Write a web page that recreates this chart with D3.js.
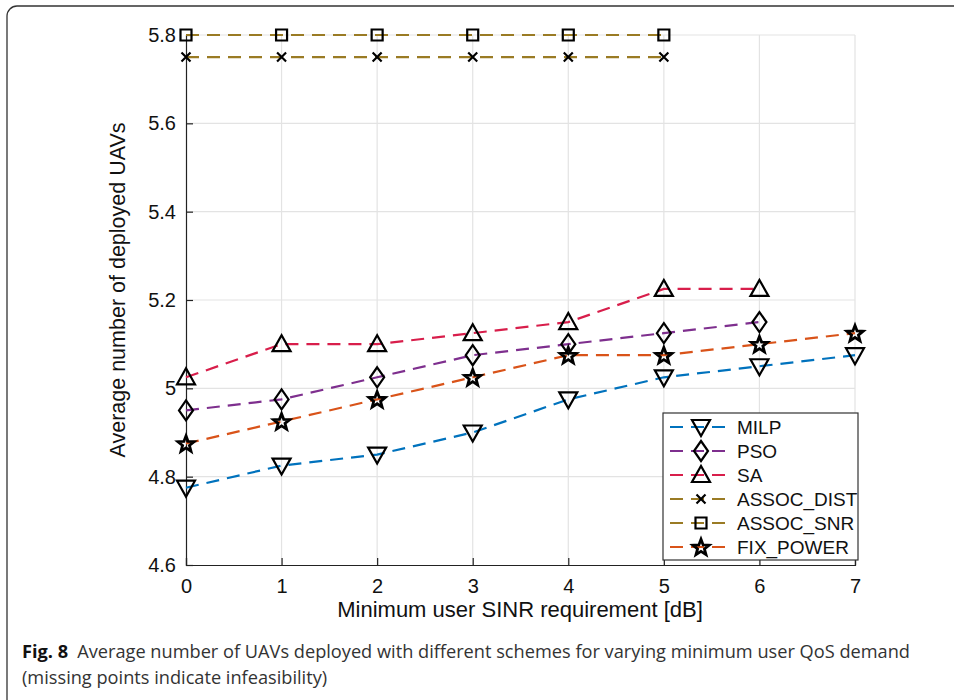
<!DOCTYPE html>
<html>
<head>
<meta charset="utf-8">
<script src="https://cdn.jsdelivr.net/npm/d3@7"></script>
<style>
  body { margin: 0; background: #fff; }
  svg { display: block; }
</style>
</head>
<body>
<div id="chart"></div>
<script>
// --- Data ---
const xTicks = [0, 1, 2, 3, 4, 5, 6, 7];
const yTicks = [4.6, 4.8, 5.0, 5.2, 5.4, 5.6, 5.8];

const milp = [4.775, 4.825, 4.85, 4.9, 4.975, 5.025, 5.05, 5.075];
const pso = [4.95, 4.975, 5.025, 5.075, 5.1, 5.125, 5.15];
const sa = [5.025, 5.1, 5.1, 5.125, 5.15, 5.225, 5.225];
const assocDist = [5.75, 5.75, 5.75, 5.75, 5.75, 5.75];
const assocSnr = [5.8, 5.8, 5.8, 5.8, 5.8, 5.8];
const fixPower = [4.875, 4.925, 4.975, 5.025, 5.075, 5.075, 5.1, 5.125];

const seriesNames = ['MILP', 'PSO', 'SA', 'ASSOC_DIST', 'ASSOC_SNR', 'FIX_POWER'];
const seriesValues = [milp, pso, sa, assocDist, assocSnr, fixPower];
const seriesColors = ['#0072BD', '#7E2F8E', '#D81E4B', '#9A7B24', '#9A7B24', '#D95319'];
const seriesMarkers = ['triDown', 'diamond', 'triUp', 'cross', 'square', 'star'];

const FONT = '"Liberation Sans", Arial, sans-serif';

// --- Setup ---
const W = 954, H = 700;
const svg = d3.select('#chart').append('svg').attr('width', W).attr('height', H);

// outer frame (rounded corner, right/bottom run off the page)
svg.append('rect')
    .attr('x', 7).attr('y', 6).attr('width', 980).attr('height', 740)
    .attr('rx', 10)
    .attr('fill', 'none').attr('stroke', '#333').attr('stroke-width', 1.3);

const x = d3.scaleLinear().domain([0, 7]).range([186, 855]);
const y = d3.scaleLinear().domain([4.6, 5.8]).range([565, 35]);

const g = svg.append('g');

// grid
g.append('g').selectAll('line').data(xTicks.slice(1)).join('line')
    .attr('x1', d => x(d)).attr('x2', d => x(d)).attr('y1', y(4.6)).attr('y2', y(5.8))
    .attr('stroke', '#e3e3e3').attr('stroke-width', 1.2);
g.append('g').selectAll('line').data(yTicks.slice(1)).join('line')
    .attr('x1', x(0)).attr('x2', x(7)).attr('y1', d => y(d)).attr('y2', d => y(d))
    .attr('stroke', '#e3e3e3').attr('stroke-width', 1.2);

// axes
const xAxis = d3.axisBottom(x).tickValues(xTicks).tickSize(-7).tickPadding(14).tickFormat(d3.format('d'));
const yAxis = d3.axisLeft(y).tickValues(yTicks).tickSize(-7).tickPadding(10).tickFormat(d => d === 5 ? '5' : d3.format('.1f')(d));

const gx = g.append('g').attr('transform', `translate(0,${y(4.6)})`).call(xAxis);
const gy = g.append('g').attr('transform', `translate(${x(0)},0)`).call(yAxis);
[gx, gy].forEach(a => {
    a.attr('font-family', FONT).attr('font-size', 20);
    a.select('.domain').attr('stroke', '#222').attr('stroke-width', 1.2);
    a.selectAll('.tick line').attr('stroke', '#222').attr('stroke-width', 1.2);
    a.selectAll('.tick text').attr('fill', '#111');
});

// axis labels
svg.append('text')
    .attr('x', 520).attr('y', 617)
    .attr('text-anchor', 'middle')
    .attr('font-family', FONT)
    .attr('font-size', 22).attr('fill', '#111')
    .text('Minimum user SINR requirement [dB]');
svg.append('text')
    .attr('transform', 'translate(125,290) rotate(-90)')
    .attr('text-anchor', 'middle')
    .attr('font-family', FONT)
    .attr('font-size', 21.5).attr('fill', '#111')
    .text('Average number of deployed UAVs');

// --- Marker shapes ---
function markerPath(type) {
    switch (type) {
        case 'triDown': return 'M-9,-7 L9,-7 L0,9 Z';
        case 'triUp': return 'M-9,7 L9,7 L0,-9 Z';
        case 'diamond': return 'M0,-10 L7,0 L0,10 L-7,0 Z';
        case 'square': return 'M-5.5,-5.5 L5.5,-5.5 L5.5,5.5 L-5.5,5.5 Z';
        case 'cross': return 'M-4.5,-4.5 L4.5,4.5 M-4.5,4.5 L4.5,-4.5';
        case 'star': {
            const pts = [];
            for (let i = 0; i < 10; i++) {
                const r = i % 2 === 0 ? 8.5 : 3.6;
                const a = -Math.PI / 2 + i * Math.PI / 5;
                pts.push([r * Math.cos(a), r * Math.sin(a) + 0.8]);
            }
            return 'M' + pts.map(p => p.join(',')).join('L') + 'Z';
        }
    }
}

const line = d3.line().x((d, i) => x(i)).y(d => y(d));

const plot = g.append('g');
seriesValues.forEach((vals, si) => {
    plot.append('path')
        .datum(vals)
        .attr('d', line)
        .attr('fill', 'none')
        .attr('stroke', seriesColors[si])
        .attr('stroke-width', 2.2)
        .attr('stroke-dasharray', '13,8');
});
seriesValues.forEach((vals, si) => {
    plot.append('g').selectAll('path').data(vals).join('path')
        .attr('transform', (d, i) => `translate(${x(i)},${y(d)})`)
        .attr('d', markerPath(seriesMarkers[si]))
        .attr('fill', 'none')
        .attr('stroke', '#000')
        .attr('stroke-width', seriesMarkers[si] === 'star' ? 2.8 : 2.2)
        .attr('stroke-linejoin', 'miter');
});

// --- Legend ---
const legend = svg.append('g');
legend.append('rect')
    .attr('x', 663).attr('y', 413).attr('width', 195).attr('height', 147)
    .attr('fill', '#fff').attr('stroke', '#333').attr('stroke-width', 1.2);
seriesNames.forEach((name, si) => {
    const ly = 427 + si * 24;
    const row = legend.append('g').attr('transform', `translate(0,${ly})`);
    row.append('line')
        .attr('x1', 670).attr('x2', 733).attr('y1', 0).attr('y2', 0)
        .attr('stroke', seriesColors[si]).attr('stroke-width', 2.2)
        .attr('stroke-dasharray', '13,8');
    row.append('path')
        .attr('transform', 'translate(701,0)')
        .attr('d', markerPath(seriesMarkers[si]))
        .attr('fill', 'none').attr('stroke', '#000')
        .attr('stroke-width', seriesMarkers[si] === 'star' ? 2.8 : 2.2);
    row.append('text')
        .attr('x', 737).attr('y', 7)
        .attr('font-family', FONT)
        .attr('font-size', 19).attr('fill', '#111')
        .text(name);
});

// --- Caption ---
const cap = svg.append('text')
    .attr('font-family', '"Open Sans", "Noto Sans", sans-serif')
    .attr('font-size', 18.2).attr('fill', '#333');
const l1 = cap.append('tspan').attr('x', 22).attr('y', 658);
l1.append('tspan').attr('font-weight', 'bold').attr('fill', '#111').text('Fig. 8');
l1.append('tspan').text('\u2002Average number of UAVs deployed with different schemes for varying minimum user QoS demand');
cap.append('tspan').attr('x', 22).attr('y', 684).text('(missing points indicate infeasibility)');
</script>
</body>
</html>
